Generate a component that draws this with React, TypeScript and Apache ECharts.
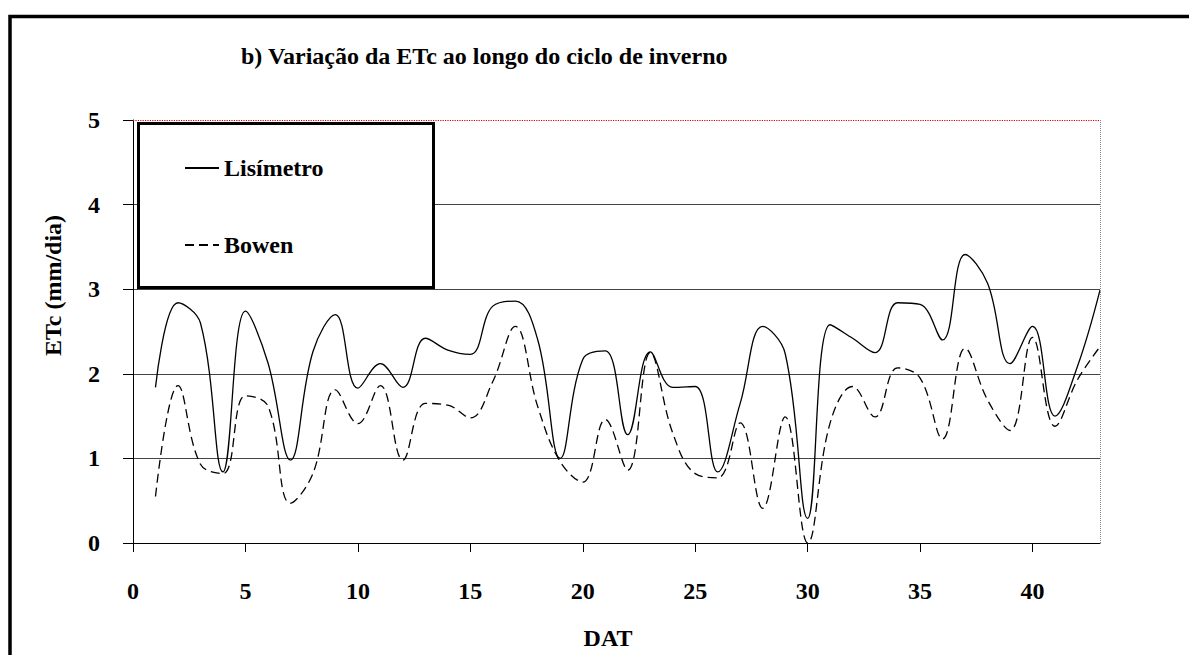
import React, { useEffect, useRef } from "react";
import * as echarts from "echarts";

const days = [1, 2, 3, 4, 5, 6, 7, 8, 9, 10, 11, 12, 13, 14, 15, 16, 17, 18, 19, 20, 21, 22, 23, 24, 25, 26, 27, 28, 29, 30, 31, 32, 33, 34, 35, 36, 37, 38, 39, 40, 41, 42, 43];

const lisimetro = [1.84, 2.84, 2.6, 0.84, 2.74, 2.13, 0.98, 2.26, 2.7, 1.83, 2.12, 1.84, 2.42, 2.28, 2.23, 2.8, 2.86, 2.4, 1.0, 2.17, 2.27, 1.28, 2.26, 1.84, 1.85, 0.84, 1.65, 2.56, 2.24, 0.29, 2.58, 2.42, 2.25, 2.84, 2.82, 2.4, 3.41, 3.07, 2.12, 2.56, 1.5, 2.09, 2.99];

const bowen = [0.55, 1.86, 0.93, 0.82, 1.74, 1.62, 0.47, 0.82, 1.81, 1.41, 1.86, 0.98, 1.65, 1.63, 1.48, 1.91, 2.56, 1.61, 0.96, 0.72, 1.46, 0.86, 2.25, 1.3, 0.82, 0.77, 1.42, 0.41, 1.49, 0.0, 1.42, 1.85, 1.49, 2.07, 1.95, 1.23, 2.3, 1.69, 1.33, 2.43, 1.38, 1.93, 2.32];

const xTicks = [0, 5, 10, 15, 20, 25, 30, 35, 40];
const seriesNames = ["Lisímetro", "Bowen"];
const titleText = "b) Variação da ETc ao longo do ciclo de inverno";
const xName = "DAT";
const yName = "ETc (mm/dia)";

const FONT = "'Liberation Serif', 'Times New Roman', serif";

export default function App() {
  const ref = useRef<HTMLDivElement>(null);

  useEffect(() => {
    if (!ref.current) return;
    const chart = echarts.init(ref.current, undefined, { renderer: "svg" });
    const option: any = {
      animation: false,
      backgroundColor: "#fff",
      title: {
        text: titleText,
        left: 241,
        top: 44,
        padding: 0,
        textStyle: { fontSize: 24, fontWeight: "bold", fontFamily: FONT, color: "#000" },
      },
      legend: {
        data: seriesNames,
        orient: "vertical",
        left: 184,
        top: 156,
        z: 20,
        itemWidth: 34,
        itemHeight: 14,
        itemGap: 53,
        padding: 0,
        itemStyle: { opacity: 0 },
        textStyle: { fontSize: 24, fontWeight: "bold", fontFamily: FONT, color: "#000", lineHeight: 24 },
      },
      grid: { left: 133, right: 89, top: 120, bottom: 112, containLabel: false },
      xAxis: {
        type: "value",
        min: 0,
        max: 43,
        interval: 5,
        name: xName,
        nameLocation: "middle",
        nameGap: 83,
        nameTextStyle: { fontSize: 24, fontWeight: "bold", fontFamily: FONT, color: "#000", padding: [0, 17, 0, 0] },
        axisLine: { show: true, lineStyle: { color: "#000", width: 1 } },
        axisTick: { show: true, inside: false, length: 9, lineStyle: { color: "#000" }, customValues: xTicks },
        axisLabel: {
          fontSize: 24,
          fontWeight: "bold",
          fontFamily: FONT,
          color: "#000",
          margin: 36,
          customValues: xTicks,
        },
        splitLine: { show: false },
      },
      yAxis: {
        type: "value",
        min: 0,
        max: 5,
        interval: 1,
        name: yName,
        nameLocation: "middle",
        nameRotate: 90,
        nameGap: 68,
        nameTextStyle: { fontSize: 24, fontWeight: "bold", fontFamily: FONT, color: "#000", padding: [0, 0, 0, 92] },
        axisLine: { show: true, lineStyle: { color: "#000", width: 1 } },
        axisTick: { show: true, inside: false, length: 10, lineStyle: { color: "#000" } },
        axisLabel: { fontSize: 24, fontWeight: "bold", fontFamily: FONT, color: "#000", margin: 33 },
        splitLine: { show: true, showMaxLine: false, lineStyle: { color: "#444", width: 1 } },
      },
      graphic: [
        {
          type: "rect",
          z: 0,
          shape: { x: 10, y: 16.5, width: 1300, height: 800 },
          style: { fill: "none", stroke: "#000", lineWidth: 3.5 },
        },
        {
          type: "rect",
          z: 10,
          shape: { x: 138.5, y: 123.5, width: 295, height: 164 },
          style: { fill: "#fff", stroke: "#000", lineWidth: 3 },
        },
      ],
      series: [
        {
          name: seriesNames[0],
          type: "line",
          smooth: 0.4,
          symbol: "none",
          data: days.map((d, i) => [d, lisimetro[i]]),
          lineStyle: { color: "#000", width: 1.3, type: "solid" },
          itemStyle: { color: "#000" },
          markLine: {
            silent: true,
            symbol: "none",
            label: { show: false },
            data: [
              { yAxis: 5, lineStyle: { color: "#e00000", type: "dotted", width: 1.2 } },
              { xAxis: 43, lineStyle: { color: "#888", type: "dotted", width: 1 } },
            ],
          },
        },
        {
          name: seriesNames[1],
          type: "line",
          smooth: 0.4,
          symbol: "none",
          data: days.map((d, i) => [d, bowen[i]]),
          lineStyle: { color: "#000", width: 1.3, type: [9, 5] },
          itemStyle: { color: "#000" },
        },
      ],
    };
    chart.setOption(option);
    return () => chart.dispose();
  }, []);

  return (
    <div
      ref={ref}
      style={{ position: "absolute", left: 0, top: 0, width: 1189, height: 655, background: "#fff" }}
    />
  );
}
